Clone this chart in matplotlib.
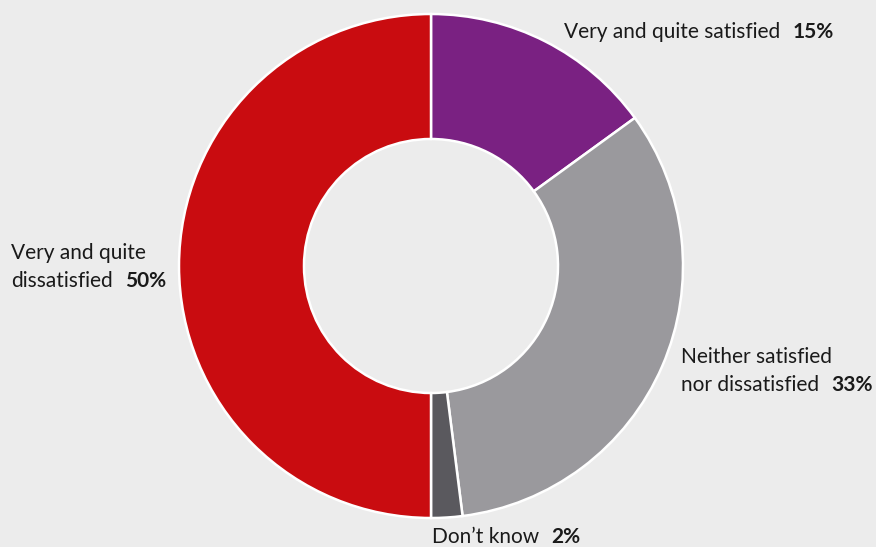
import matplotlib
matplotlib.use('Agg')
import matplotlib.pyplot as plt

labels = ['Very and quite satisfied', 'Neither satisfied\nnor dissatisfied', "Don\u2019t know", 'Very and quite\ndissatisfied']
values = [15, 33, 2, 50]
colors = ['#7a2182', '#9a999d', '#5a595e', '#c90c10']
pct_text = ['15%', '33%', '2%', '50%']

W, H = 876, 547
BG = '#ececec'
TXT = '#1a1a1a'
plt.rcParams['font.family'] = ['Lato', 'DejaVu Sans']

fig = plt.figure(figsize=(W / 100, H / 100), dpi=100, facecolor=BG)

# donut centred at (431, 266) px, outer radius 252 px
cx, cy, R = 431, 266, 252
ax = fig.add_axes([(cx - R) / W, (H - cy - R) / H, 2 * R / W, 2 * R / H])
ax.set_facecolor(BG)
ax.pie(values, colors=colors, startangle=90, counterclock=False, radius=1,
       wedgeprops=dict(width=0.496, edgecolor='white', linewidth=1.8))
ax.set_xlim(-1, 1); ax.set_ylim(-1, 1)
ax.set_aspect('equal')
ax.axis('off')

def px(x, y):
    return x / W, 1 - y / H

# label anchor: left x, y centre of the last line (px from top)
anchors = [(564, 32), (681, 385), (432, 537), (11, 281)]
renderer = fig.canvas.get_renderer()
for lab, pct, (x, y) in zip(labels, pct_text, anchors):
    lines = lab.split('\n')
    for k, line in enumerate(lines):
        yy = y - 28 * (len(lines) - 1 - k)
        t = fig.text(*px(x, yy), line, fontsize=15, color=TXT, ha='left', va='center')
    bb = t.get_window_extent(renderer)
    fig.text(*px(bb.x1 + 12, y), pct, fontsize=15, color=TXT, fontweight='bold',
             ha='left', va='center')

fig.savefig('out.png', dpi=100, facecolor=BG)
